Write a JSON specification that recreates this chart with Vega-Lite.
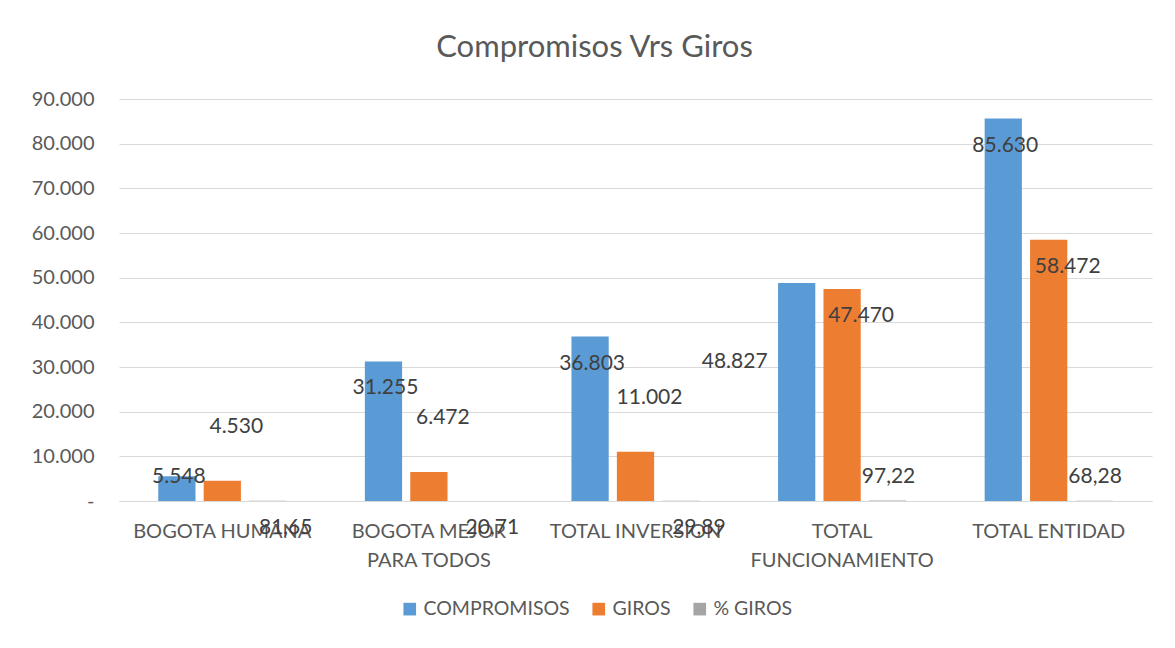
{
  "$schema": "https://vega.github.io/schema/vega-lite/v6.json",
  "width": 1033,
  "height": 402,
  "autosize": {"type": "none"},
  "padding": {"left": 119, "top": 99, "right": 23, "bottom": 147},
  "background": "white",
  "title": {"text": "Compromisos Vrs Giros", "fontSize": 31, "font": "Lato", "fontWeight": "normal", "color": "#595959", "anchor": "middle", "offset": 25, "dx": -41},
  "config": {"view": {"stroke": null}, "text": {"font": "Lato"}},
  "data": {"values": [
    {"cat": "BOGOTA HUMANA", "serie": "COMPROMISOS", "valor": 5548},
    {"cat": "BOGOTA HUMANA", "serie": "GIROS", "valor": 4530},
    {"cat": "BOGOTA HUMANA", "serie": "% GIROS", "valor": 81.65},
    {"cat": "BOGOTA MEJOR PARA TODOS", "serie": "COMPROMISOS", "valor": 31255},
    {"cat": "BOGOTA MEJOR PARA TODOS", "serie": "GIROS", "valor": 6472},
    {"cat": "BOGOTA MEJOR PARA TODOS", "serie": "% GIROS", "valor": 20.71},
    {"cat": "TOTAL INVERSION", "serie": "COMPROMISOS", "valor": 36803},
    {"cat": "TOTAL INVERSION", "serie": "GIROS", "valor": 11002},
    {"cat": "TOTAL INVERSION", "serie": "% GIROS", "valor": 29.89},
    {"cat": "TOTAL FUNCIONAMIENTO", "serie": "COMPROMISOS", "valor": 48827},
    {"cat": "TOTAL FUNCIONAMIENTO", "serie": "GIROS", "valor": 47470},
    {"cat": "TOTAL FUNCIONAMIENTO", "serie": "% GIROS", "valor": 97.22},
    {"cat": "TOTAL ENTIDAD", "serie": "COMPROMISOS", "valor": 85630},
    {"cat": "TOTAL ENTIDAD", "serie": "GIROS", "valor": 58472},
    {"cat": "TOTAL ENTIDAD", "serie": "% GIROS", "valor": 68.28}
  ]},
  "transform": [
    {"calculate": "datum.serie == '% GIROS' ? replace(format(datum.valor, '.2f'), '.', ',') : replace(format(datum.valor, ',.0f'), ',', '.')", "as": "etiqueta"}
  ],
  "encoding": {
    "x": {
      "field": "cat", "type": "nominal",
      "sort": ["BOGOTA HUMANA", "BOGOTA MEJOR PARA TODOS", "TOTAL INVERSION", "TOTAL FUNCIONAMIENTO", "TOTAL ENTIDAD"],
      "scale": {"paddingInner": 0.38, "paddingOuter": 0.19},
      "axis": {
        "title": null, "ticks": false, "domainColor": "#d9d9d9", "domainWidth": 1,
        "labelAngle": 0, "labelFont": "Lato", "labelFontSize": 20, "labelColor": "#595959",
        "labelPadding": 20, "labelLineHeight": 29, "labelLimit": 400, "labelOverlap": false,
        "labelExpr": "datum.label == 'BOGOTA MEJOR PARA TODOS' ? ['BOGOTA MEJOR', 'PARA TODOS'] : datum.label == 'TOTAL FUNCIONAMIENTO' ? ['TOTAL', 'FUNCIONAMIENTO'] : datum.label"
      }
    },
    "xOffset": {"field": "serie", "type": "nominal", "sort": ["COMPROMISOS", "GIROS", "% GIROS"], "scale": {"paddingInner": 0.18, "paddingOuter": 0}},
    "y": {
      "field": "valor", "type": "quantitative",
      "scale": {"domain": [0, 90000], "nice": false},
      "axis": {
        "title": null, "domain": false, "ticks": false,
        "values": [0, 10000, 20000, 30000, 40000, 50000, 60000, 70000, 80000, 90000],
        "labelExpr": "datum.value == 0 ? '-\u00a0\u00a0\u00a0\u00a0\u00a0\u00a0\u00a0\u00a0\u00a0\u00a0\u00a0' : replace(format(datum.value, ',.0f'), ',', '.')",
        "labelFont": "Lato", "labelFontSize": 20, "labelColor": "#595959", "labelPadding": 25,
        "gridColor": "#d9d9d9", "gridWidth": 1
      }
    }
  },
  "layer": [
    {
      "mark": {"type": "bar"},
      "encoding": {
        "color": {
          "field": "serie", "type": "nominal",
          "scale": {"domain": ["COMPROMISOS", "GIROS", "% GIROS"], "range": ["#5B9BD5", "#ED7D31", "#A5A5A5"]},
          "legend": {
            "orient": "none", "legendX": 281, "legendY": 500, "direction": "horizontal", "columns": 3,
            "title": null, "symbolType": "square", "symbolSize": 160, "symbolStrokeWidth": 0, "symbolOpacity": 1,
            "labelFont": "Lato", "labelFontSize": 19.5, "labelColor": "#595959", "columnPadding": 19, "labelOffset": 4
          }
        }
      }
    },
    {
      "transform": [{"filter": "datum.serie == 'COMPROMISOS' && datum.cat == 'BOGOTA HUMANA'"}],
      "mark": {"type": "text", "fontSize": 21, "color": "#404040", "baseline": "middle", "align": "center", "dx": 2, "dy": 1},
      "encoding": {"text": {"field": "etiqueta"}}
    },
    {
      "transform": [{"filter": "datum.serie == 'COMPROMISOS' && datum.cat != 'BOGOTA HUMANA' && datum.cat != 'TOTAL FUNCIONAMIENTO'"}],
      "mark": {"type": "text", "fontSize": 21, "color": "#404040", "baseline": "middle", "align": "center", "dx": 2, "dy": 27},
      "encoding": {"text": {"field": "etiqueta"}}
    },
    {
      "transform": [{"filter": "datum.serie == 'COMPROMISOS' && datum.cat == 'TOTAL FUNCIONAMIENTO'"}],
      "mark": {"type": "text", "fontSize": 21, "color": "#404040", "baseline": "middle", "align": "center", "dx": -62, "dy": 79},
      "encoding": {"text": {"field": "etiqueta"}}
    },
    {
      "transform": [{"filter": "datum.serie == 'GIROS' && datum.valor < 20000"}],
      "mark": {"type": "text", "fontSize": 21, "color": "#404040", "baseline": "middle", "align": "center", "dx": 14, "dy": -54},
      "encoding": {"text": {"field": "etiqueta"}}
    },
    {
      "transform": [{"filter": "datum.serie == 'GIROS' && datum.valor >= 20000"}],
      "mark": {"type": "text", "fontSize": 21, "color": "#404040", "baseline": "middle", "align": "center", "dx": 19, "dy": 27},
      "encoding": {"text": {"field": "etiqueta"}}
    },
    {
      "transform": [{"filter": "datum.serie == '% GIROS' && (datum.cat == 'BOGOTA HUMANA' || datum.cat == 'BOGOTA MEJOR PARA TODOS' || datum.cat == 'TOTAL INVERSION')"}],
      "mark": {"type": "text", "fontSize": 21, "color": "#404040", "baseline": "middle", "align": "center", "dx": 18, "dy": 27},
      "encoding": {"text": {"field": "etiqueta"}}
    },
    {
      "transform": [{"filter": "datum.serie == '% GIROS' && (datum.cat == 'TOTAL FUNCIONAMIENTO' || datum.cat == 'TOTAL ENTIDAD')"}],
      "mark": {"type": "text", "fontSize": 21, "color": "#404040", "baseline": "middle", "align": "center", "dx": 1, "dy": -24},
      "encoding": {"text": {"field": "etiqueta"}}
    }
  ]
}
